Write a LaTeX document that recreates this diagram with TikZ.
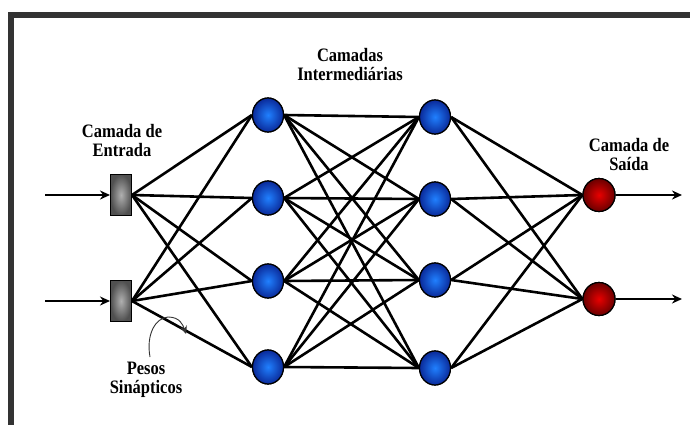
\documentclass[tikz,border=0pt]{standalone}
\usepackage{fontspec}
\setmainfont{Liberation Serif}
\usetikzlibrary{arrows.meta,shapes.geometric}
\definecolor{frame}{HTML}{333333}
\definecolor{bluein}{HTML}{2080FF}
\definecolor{blueout}{HTML}{0A2A9A}
\definecolor{redin}{HTML}{E80000}
\definecolor{redout}{HTML}{6A0000}
\definecolor{grayin}{HTML}{B0B0B0}
\definecolor{grayout}{HTML}{505050}
\newcommand{\tallbox}[1]{\scalebox{1}[1.15]{\begin{tabular}{@{}c@{}}#1\end{tabular}}}
\tikzset{
  hid/.style={ellipse, draw=black, line width=1.2pt, minimum width=31pt, minimum height=34pt, inner sep=0pt, inner color=bluein, outer color=blueout},
  outn/.style={ellipse, draw=black, line width=1.2pt, minimum width=32pt, minimum height=33pt, inner sep=0pt, inner color=redin, outer color=redout},
  inbox/.style={rectangle, draw=black, line width=1pt, minimum width=21pt, minimum height=41pt, inner sep=0pt, inner color=grayin, outer color=grayout},
  conn/.style={line width=2.6pt, black},
  arr/.style={line width=2.6pt, -{Stealth[length=10pt,width=9pt]}},
  lbl/.style={font=\fontsize{16.5}{16.5}\selectfont\bfseries, align=center, inner sep=0pt},
}
\begin{document}
\begin{tikzpicture}[x=1pt,y=-1pt]
\useasboundingbox (0,0) rectangle (690,425);
\fill[white] (0,0) rectangle (690,425);
% frame
\fill[frame] (8,12) rectangle (690,18);
\fill[frame] (8,12) rectangle (14,425);

% input boxes
\node[inbox] (i1) at (121,195) {};
\node[inbox] (i2) at (121,301) {};
% hidden layer 1
\node[hid] (a1) at (268,115) {};
\node[hid] (a2) at (268,198) {};
\node[hid] (a3) at (268,281) {};
\node[hid] (a4) at (268,367) {};
% hidden layer 2
\node[hid] (b1) at (435,117) {};
\node[hid] (b2) at (435,199) {};
\node[hid] (b3) at (435,280) {};
\node[hid] (b4) at (435,368) {};
% output
\node[outn] (o1) at (599,195) {};
\node[outn] (o2) at (599,299) {};

% free ends
\coordinate (in1) at (45,195);
\coordinate (in2) at (45,301);
\coordinate (out1) at (682,195);
\coordinate (out2) at (682,299);

% connections
\foreach \i in {i1,i2}
  \foreach \a in {a1,a2,a3,a4}
    \draw[conn] (\i.east) -- (\a.west);
\foreach \a in {a1,a2,a3,a4}
  \foreach \b in {b1,b2,b3,b4}
    \draw[conn] (\a.east) -- (\b.west);
\foreach \b in {b1,b2,b3,b4}
  \foreach \o in {o1,o2}
    \draw[conn] (\b.east) -- (\o.west);

% redraw nodes on top
\node[inbox] at (i1) {};
\node[inbox] at (i2) {};
\foreach \n in {a1,a2,a3,a4,b1,b2,b3,b4} \node[hid] at (\n) {};
\node[outn] at (o1) {};
\node[outn] at (o2) {};

% arrows
\draw[arr] (in1) -- (i1.west);
\draw[arr] (in2) -- (i2.west);
\draw[arr] (o1.east) -- (out1);
\draw[arr] (o2.east) -- (out2);

% labels
\node[lbl] (le) at (122,143) {\tallbox{Camada de\\Entrada}};
\node[lbl] (lh) at (350,67) {\tallbox{Camadas\\Intermediárias}};
\node[lbl] (lo) at (629,157) {\tallbox{Camada de\\Saída}};
\node[lbl] (lp) at (146,380) {\tallbox{Pesos\\Sinápticos}};

% synaptic weight pointer
\coordinate (ps) at (150,357);
\coordinate (pe) at (186,334);
\draw[line width=0.9pt, black!80, -{Stealth[length=8pt,width=7pt]}]
  (ps) .. controls (146,335) and (155,318) .. (168,317)
       .. controls (180,317) and (183,325) .. (pe);
\end{tikzpicture}
\end{document}
